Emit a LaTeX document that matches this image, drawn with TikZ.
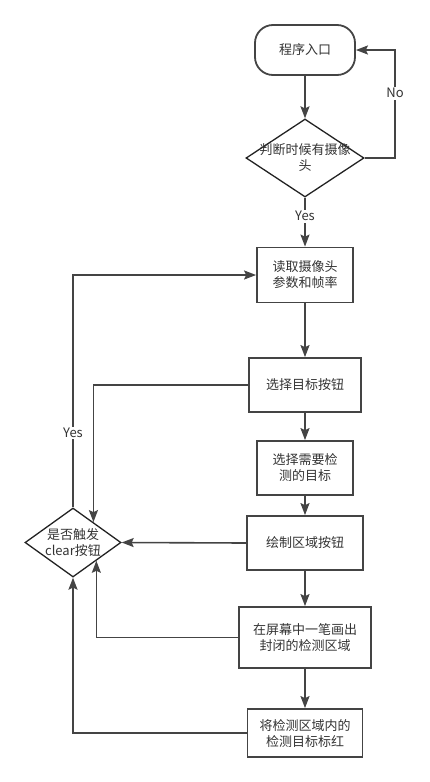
\documentclass[tikz,border=0pt]{standalone}
\usepackage{fontspec}
\setmainfont{Noto Sans CJK SC}
\usetikzlibrary{arrows.meta,shapes.geometric,calc}
\definecolor{ln}{HTML}{444444}
\definecolor{tx}{HTML}{333333}
\definecolor{dm}{HTML}{222222}
\begin{document}
\begin{tikzpicture}[x=1pt,y=-1pt,
  txt/.style={text=tx,align=center,font=\fontsize{13}{16}\selectfont},
  line/.style={draw=ln,line width=1.6pt},
  arr/.style={line,-{Stealth[length=12pt,width=9pt,inset=2pt]}},
  box/.style={draw=ln,line width=1.8pt,txt,inner sep=0pt},
  dia/.style={draw=dm,line width=1.3pt,shape=diamond,inner sep=0pt,aspect=1},
  lbl/.style={txt,fill=white,inner sep=1.5pt}
]
\useasboundingbox (0,0) rectangle (430,782);
\node[box,rounded corners=18pt,minimum width=100pt,minimum height=50pt] (s) at (305,50) {程序入口};
\node[dia,minimum width=118pt,minimum height=78pt,label={[txt]center:判断时候有摄像\\头}] (d1) at (305,158) {};
\node[box,minimum width=96pt,minimum height=55pt] (b1) at (305,275) {读取摄像头\\参数和帧率};
\node[box,minimum width=112pt,minimum height=54pt] (b2) at (305,385) {选择目标按钮};
\node[box,minimum width=96pt,minimum height=54pt] (b3) at (305,468) {选择需要检\\测的目标};
\node[box,minimum width=116pt,minimum height=54pt] (b4) at (305,543) {绘制区域按钮};
\node[box,minimum width=132pt,minimum height=61pt] (b5) at (305,637.5) {在屏幕中一笔画出\\封闭的检测区域};
\node[box,minimum width=115pt,minimum height=48pt] (b6) at (305,733) {将检测区域内的\\检测目标标红};
\node[dia,minimum width=96pt,minimum height=69pt,label={[txt]center:是否触发\\clear按钮}] (d2) at (73,542.5) {};
\coordinate (nc) at (395,158);

\draw[arr] (s) -- (d1);
\draw[arr] (d1) -- node[lbl,pos=0.38]{Yes} (b1);
\draw[arr] (d1.east) -- (nc) |- node[lbl,pos=0.3]{No} (s.east);
\draw[arr] (b1) -- (b2);
\draw[arr] (b2) -- (b3);
\draw[arr] (b3) -- (b4);
\draw[arr] (b4) -- (b5);
\draw[arr] (b5) -- (b6);
\draw[arr] (b2.west) -| ($(d2.north)!0.42!(d2.east)$);
\draw[arr] (b4.west) -- (d2.east);
\draw[arr] (b5.west) -| ($(d2.east)!0.52!(d2.south)$);
\draw[arr] (b6.west) -| (d2.south);
\draw[arr] (d2.north) |- node[lbl,pos=0.16]{Yes} (b1.west);
\end{tikzpicture}
\end{document}
